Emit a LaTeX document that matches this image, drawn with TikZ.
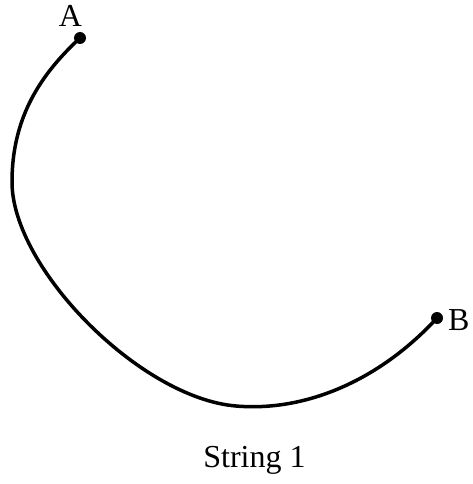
\documentclass[tikz,border=0pt]{standalone}
\usepackage{fontspec}
\setmainfont{Liberation Serif}
\usetikzlibrary{positioning}

\begin{document}
\begin{tikzpicture}[
  x=1pt,y=-1pt,
  font=\fontsize{32}{36}\selectfont,
  stringline/.style={line width=3.5pt,line cap=round,line join=round,black},
  enddot/.style={circle,fill=black,inner sep=0pt,minimum size=12pt},
  endlabel/.style={inner sep=0pt,anchor=base}
]
\useasboundingbox (0,0) rectangle (473,484);
\node[enddot] (a) at (80,38) {};
\node[enddot] (b) at (437,318) {};
\node[endlabel] (la) at (70.5,27) {A};
\node[endlabel,anchor=base west] (lb) at (448,330) {B};
\node[endlabel] (title) at (254.5,467) {String 1};
\coordinate (left) at (12,182);
\coordinate (bottom) at (236,406);
\draw[stringline] (a.center) .. controls (40,75) and (12,118) .. (left)
  .. controls (12,268) and (140,398) .. (bottom)
  .. controls (306,412) and (380,380) .. (b.center);
\end{tikzpicture}
\end{document}
